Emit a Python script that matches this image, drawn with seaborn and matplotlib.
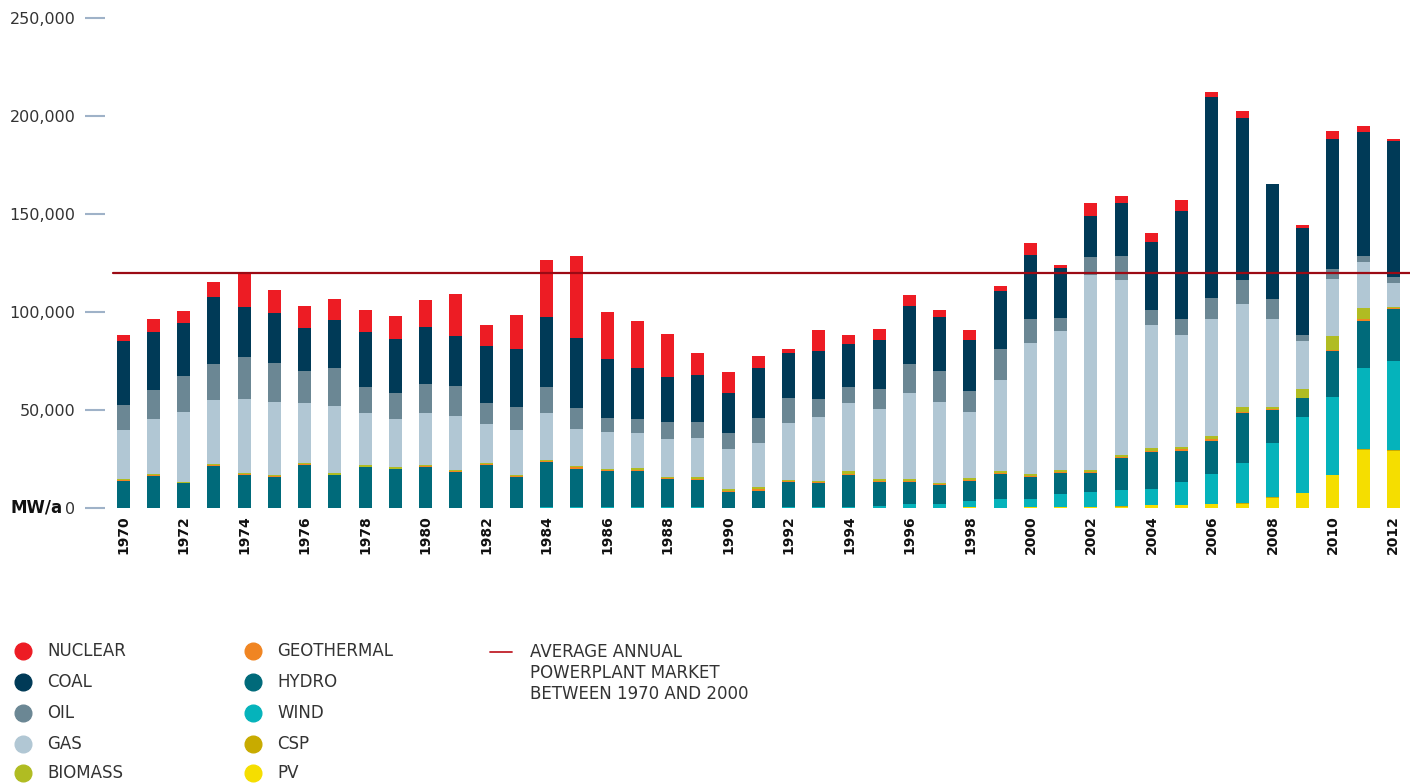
import numpy as np
import pandas as pd
import seaborn as sns
import matplotlib.pyplot as plt
from matplotlib.lines import Line2D

years = list(range(1970, 2013))

# MW per year, in thousands
pv = [0] * 28 + [0.3, 0.2, 0.3, 0.3, 0.4, 0.5, 1.7, 1.5, 2.0, 2.2, 5.3, 7.5, 16.6, 29.5, 29.3]
csp = [0] * 33 + [0.5, 0, 0.2, 0, 0.4, 0.5, 0, 0.4, 0.4, 0.4]
wind = [0] * 10 + [0.2, 0, 0.2, 0, 0.3, 0.5, 0.3, 0.3, 0.5, 0.3,
                   0.2, 0.2, 0.3, 0.3, 0.5, 0.8, 1.9, 2.2, 3.1, 4.2,
                   4.3, 7.0, 7.9, 8.2, 8.2, 11.7, 15.2, 20.2, 27.5, 39.1,
                   39.8, 41.4, 45.5]
hydro = [13.9, 16.5, 12.6, 21.4, 17.0, 15.8, 21.9, 16.7, 20.8, 19.7,
         20.7, 18.5, 21.7, 16.0, 23.0, 19.6, 18.7, 18.6, 14.1, 14.0,
         8.0, 8.6, 12.8, 12.3, 16.3, 12.6, 11.5, 9.4, 10.2, 12.9,
         11.1, 10.4, 9.4, 16.1, 18.7, 15.7, 17.0, 25.5, 16.7, 9.4,
         23.3, 24.3, 26.5]
geothermal = [0.3] * 10 + [0.5, 0.5, 0.4, 0.5, 0.5, 0.6, 0.5, 0.7, 0.5, 0.6,
                           0.6, 0.7, 0.5, 0.5, 0.8, 0.5, 0.5, 0.5, 0.7, 0.6,
                           0.6, 0.6, 0.6, 0.7, 0.7, 0.8, 0.9, 0.7, 0.5, 0.2,
                           0.3, 0.6, 0.5]
biomass = [0.6, 0.5, 0.5, 0.6, 0.6, 0.6, 0.6, 0.7, 1.0, 0.8,
           0.5, 0.5, 0.5, 0.5, 0.7, 0.7, 0.6, 1.0, 0.7, 0.9,
           0.9, 1.1, 0.7, 0.8, 1.1, 0.9, 0.9, 0.8, 1.0, 1.1,
           1.0, 1.1, 1.1, 1.2, 1.3, 1.4, 1.8, 2.5, 1.0, 4.7,
           7.4, 6.0, 0.5]
gas = [25.0, 27.9, 35.6, 33.0, 37.7, 37.2, 30.9, 34.3, 26.4, 24.8,
       26.7, 27.4, 19.9, 22.9, 23.8, 18.9, 18.5, 17.7, 19.6, 19.9,
       20.4, 22.7, 29.2, 32.7, 35.0, 35.9, 43.9, 41.3, 33.7, 46.5,
       67.1, 71.1, 99.6, 89.0, 62.9, 57.1, 59.7, 52.4, 44.8, 24.1,
       29.2, 23.2, 11.9]
oil = [12.7, 15.0, 18.5, 18.3, 21.3, 19.9, 16.3, 19.6, 13.4, 12.9,
       14.5, 15.2, 10.7, 11.5, 13.4, 10.7, 7.5, 7.1, 8.6, 8.0,
       8.0, 12.5, 12.8, 9.2, 8.2, 10.0, 14.9, 15.8, 10.9, 15.6,
       11.9, 6.3, 9.3, 12.5, 7.5, 8.2, 10.5, 12.3, 10.3, 3.1,
       5.1, 3.3, 3.4]
coal = [32.9, 29.8, 27.1, 34.2, 25.5, 25.9, 22.0, 24.5, 28.1, 27.7,
        29.4, 25.7, 29.3, 29.7, 35.6, 35.7, 29.8, 26.2, 22.8, 24.2,
        20.7, 25.8, 22.8, 24.3, 21.8, 25.2, 29.5, 27.4, 25.8, 29.6,
        32.9, 25.8, 20.9, 26.9, 34.9, 55.1, 102.8, 82.9, 58.9, 54.9,
        66.0, 63.0, 69.1]
nuclear = [2.9, 6.3, 5.9, 7.5, 18.1, 11.5, 11.1, 10.7, 11.2, 11.8,
           13.6, 21.4, 10.8, 17.4, 29.2, 41.9, 24.1, 24.0, 22.0, 11.2,
           10.6, 6.0, 2.0, 10.7, 4.7, 5.4, 5.6, 3.8, 5.1, 2.7,
           6.2, 1.4, 6.6, 3.4, 4.2, 5.3, 2.2, 3.5, 0.0, 1.6,
           4.2, 3.2, 1.2]

average_market = 120000

# bottom to top
layers = [
    ("PV", pv, "#f5de00"),
    ("CSP", csp, "#c8ab00"),
    ("WIND", wind, "#05b3bb"),
    ("HYDRO", hydro, "#006a7a"),
    ("GEOTHERMAL", geothermal, "#f08522"),
    ("BIOMASS", biomass, "#b0bc22"),
    ("GAS", gas, "#b1c7d4"),
    ("OIL", oil, "#6b8794"),
    ("COAL", coal, "#003a57"),
    ("NUCLEAR", nuclear, "#ed1c24"),
]

df = pd.DataFrame({"year": [str(y) for y in years]})
running = np.zeros(len(years))
for name, vals, _ in layers:
    running = running + np.array(vals) * 1000
    df[name] = running

sns.set_style("white")
plt.rcParams["font.family"] = ["DejaVu Sans"]

fig = plt.figure(figsize=(14.11, 7.83), dpi=100)
W, H = 1411, 783
ax = fig.add_axes([105 / W, (H - 508) / H, (1410 - 105) / W, (508 - 18) / H])

# stacked bars: draw cumulative tops from the highest layer down
for name, _, color in reversed(layers):
    sns.barplot(data=df, x="year", y=name, color=color, width=0.43,
                saturation=1, errorbar=None, linewidth=0, ax=ax)

ax.plot([-0.33, 42.55], [average_market, average_market],
        color="#9b0a14", lw=1.6, zorder=5)

ax.set_xlim(-0.6, 42.55)
ax.set_ylim(0, 250000)
ax.set_xlabel("")
ax.set_ylabel("")
for s in ax.spines.values():
    s.set_visible(False)

yt = [0, 50000, 100000, 150000, 200000, 250000]
ax.set_yticks(yt)
ax.set_yticklabels([f"{v:,}" for v in yt])
ax.tick_params(axis="y", length=14.4, width=1.5, color="#9fb2c8", pad=7,
               labelsize=11.5, labelcolor="#333333", left=True)

ax.set_xticks(range(len(years)))
ax.set_xticklabels([str(y) if y % 2 == 0 else "" for y in years],
                   rotation=90, fontsize=10, fontweight="bold", color="#111111")
ax.tick_params(axis="x", length=0, pad=5)

fig.text(10 / W, 1 - 508 / H, "MW/a", fontsize=12, fontweight="bold",
         color="#111111", va="center", ha="left")

# legend
cols = {n: c for n, _, c in layers}
legend_cols = [
    (23, ["NUCLEAR", "COAL", "OIL", "GAS", "BIOMASS"]),
    (253, ["GEOTHERMAL", "HYDRO", "WIND", "CSP", "PV"]),
]
rows_y = [651, 682, 713, 744, 773]
for cx, names in legend_cols:
    for name, ry in zip(names, rows_y):
        fig.add_artist(Line2D([cx / W], [1 - ry / H], marker="o", markersize=12,
                              color=cols[name], linestyle="none",
                              transform=fig.transFigure))
        fig.text((cx + 24) / W, 1 - ry / H, name, fontsize=12,
                 color="#333333", va="center", ha="left")

fig.add_artist(Line2D([490 / W, 512 / W], [1 - 652 / H, 1 - 652 / H],
                      color="#c0202a", lw=1.3, transform=fig.transFigure))
for txt, ly in zip(["AVERAGE ANNUAL", "POWERPLANT MARKET", "BETWEEN 1970 AND 2000"],
                   [652, 673, 694]):
    fig.text(530 / W, 1 - ly / H, txt, fontsize=12, color="#333333",
             va="center", ha="left")

fig.savefig("out.png", dpi=100, facecolor="white")
